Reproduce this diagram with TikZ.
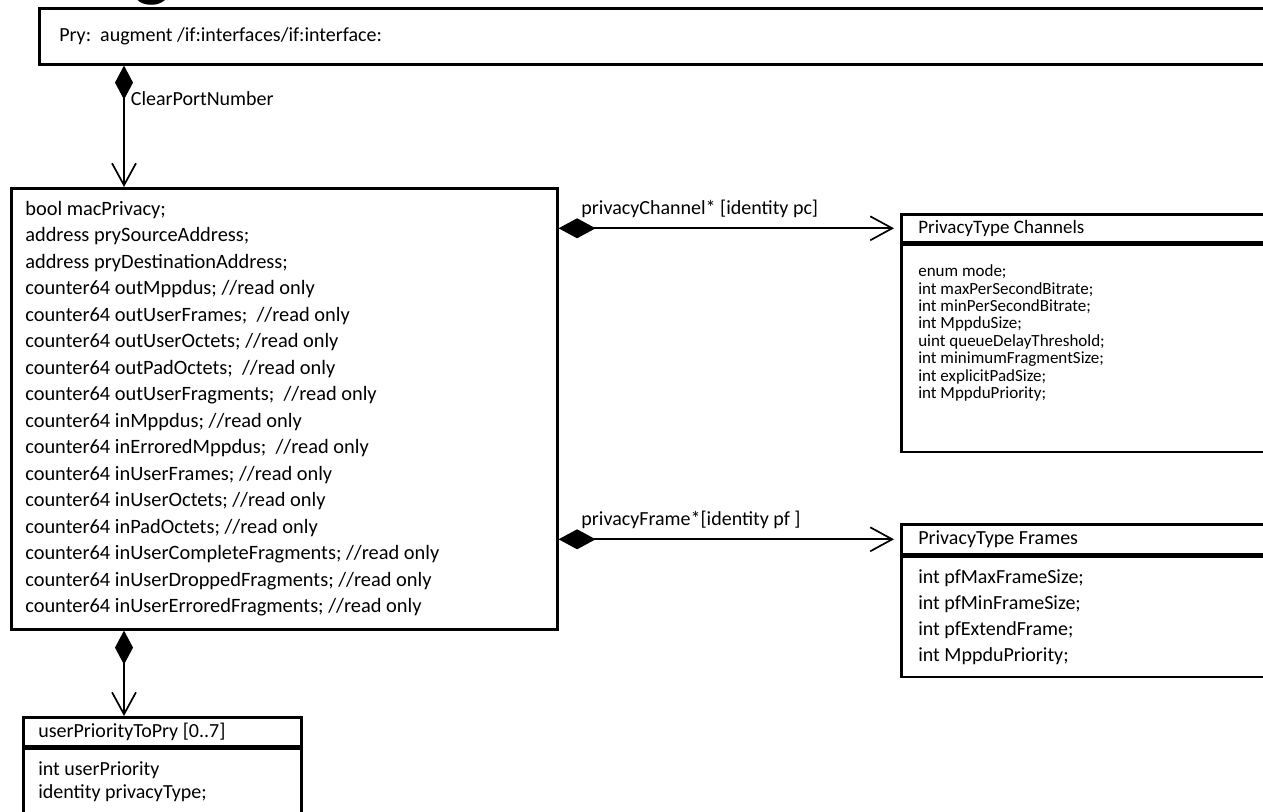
\documentclass[tikz,border=0pt]{standalone}
\usepackage{fontspec}
\setmainfont{Carlito}
\usetikzlibrary{arrows.meta,positioning}

\tikzset{
  umlbox/.style={draw, line width=1.3pt, anchor=north west, inner ysep=0pt},
  lbl/.style={font=\fontsize{10}{12}\selectfont, inner sep=0pt},
  compv/.style={line width=0.85pt,
    {Diamond[length=17pt,width=9pt]}-{Straight Barb[length=11pt,width=12pt]}},
  comph/.style={line width=0.85pt, shorten >=3pt,
    {Diamond[length=18.5pt,width=10pt]}-{Straight Barb[length=11pt,width=12pt]}},
}

\begin{document}
\begin{tikzpicture}[x=0.5pt,y=-0.5pt]
  \useasboundingbox (0,0) rectangle (1263,812);

  % title, cut off by the page
  \begin{scope}
    \clip (0,0) rectangle (1263,812);
    \node[font=\fontsize{40}{40}\selectfont, anchor=base, inner sep=0pt] (ttl) at (152,-8) {g};
  \end{scope}

  % augmented interface
  \node[umlbox, minimum width=640pt, minimum height=28pt, inner xsep=8.5pt,
        font=\fontsize{10}{12}\selectfont] (pry) at (38,7)
    {\parbox{620pt}{Pry:\ \ augment /if:interfaces/if:interface:}};

  % privacy container
  \node[umlbox, minimum width=273pt, minimum height=220.5pt, inner xsep=7pt,
        font=\fontsize{10.2}{13.25}\selectfont] (privacy) at (10,187)
    {\parbox{259pt}{bool macPrivacy;\\
      address prySourceAddress;\\
      address pryDestinationAddress;\\
      counter64 outMppdus; //read only\\
      counter64 outUserFrames;\ \ //read only\\
      counter64 outUserOctets; //read only\\
      counter64 outPadOctets;\ \ //read only\\
      counter64 outUserFragments;\ \ //read only\\
      counter64 inMppdus; //read only\\
      counter64 inErroredMppdus;\ \ //read only\\
      counter64 inUserFrames; //read only\\
      counter64 inUserOctets; //read only\\
      counter64 inPadOctets; //read only\\
      counter64 inUserCompleteFragments; //read only\\
      counter64 inUserDroppedFragments; //read only\\
      counter64 inUserErroredFragments; //read only}};

  % channel list
  \node[umlbox, minimum width=190pt, minimum height=14pt, inner xsep=8.5pt,
        font=\fontsize{9.5}{12}\selectfont] (chanhead) at (900,213)
    {\parbox{173pt}{PrivacyType Channels}};
  \node[umlbox, below=0pt of chanhead.south west, anchor=north west,
        minimum width=190pt, inner xsep=8.5pt, font=\fontsize{8.5}{8.7}\selectfont] (chanbody)
    {\parbox[c][103.5pt][t]{173pt}{\vspace*{10pt}enum mode;\\
      int maxPerSecondBitrate;\\
      int minPerSecondBitrate;\\
      int MppduSize;\\
      uint queueDelayThreshold;\\
      int minimumFragmentSize;\\
      int explicitPadSize;\\
      int MppduPriority;}};

  % frame list
  \node[umlbox, minimum width=190pt, minimum height=15pt, inner xsep=8.5pt,
        font=\fontsize{10}{12}\selectfont] (framehead) at (900,523)
    {\parbox{173pt}{PrivacyType Frames}};
  \node[umlbox, below=0pt of framehead.south west, anchor=north west,
        minimum width=190pt, minimum height=60pt, inner xsep=8.5pt,
        font=\fontsize{10}{13}\selectfont] (framebody)
    {\parbox{173pt}{int pfMaxFrameSize;\\
      int pfMinFrameSize;\\
      int pfExtendFrame;\\
      int MppduPriority;}};

  % priority mapping
  \node[umlbox, minimum width=139pt, minimum height=14.5pt, inner xsep=7.5pt,
        font=\fontsize{10}{12}\selectfont] (prio) at (22,716)
    {\parbox{124pt}{userPriorityToPry [0..7]}};
  \node[umlbox, below=0pt of prio.south west, anchor=north west,
        minimum width=139pt, inner xsep=7.5pt, font=\fontsize{10}{11.5}\selectfont] (priobody)
    {\parbox[c][45pt][t]{124pt}{\vspace*{6.5pt}int userPriority\\
      identity privacyType;}};

  % compositions
  \draw[compv] ([xshift=43pt]pry.south west)
    -- node[lbl, pos=0.27, right=3pt] {ClearPortNumber} ([xshift=57pt]privacy.north west);
  \draw[compv] ([xshift=57pt]privacy.south west) -- ([xshift=51pt]prio.north west);
  \draw[comph] (chanhead.west -| privacy.east)
    -- node[lbl, pos=0, anchor=south west, xshift=11pt, yshift=5pt] {privacyChannel* [identity pc]} (chanhead.west);
  \draw[comph] (framehead.west -| privacy.east)
    -- node[lbl, pos=0, anchor=south west, xshift=11pt, yshift=5pt] {privacyFrame*[identity pf ]} (framehead.west);

\end{tikzpicture}
\end{document}
